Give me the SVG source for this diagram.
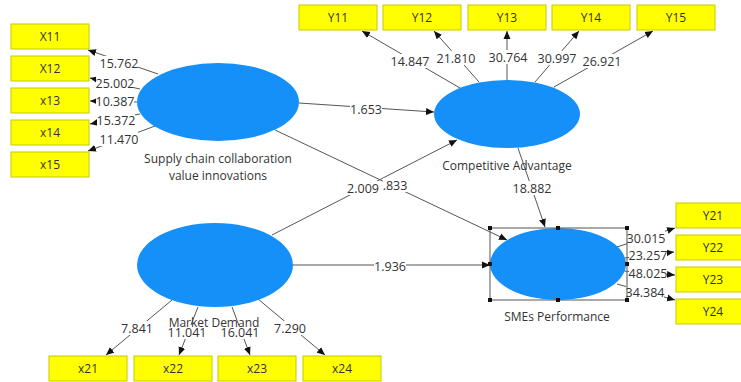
<svg xmlns="http://www.w3.org/2000/svg" width="741" height="382" viewBox="0 0 741 382">
<style>
.bg{fill:#fff}
.box{fill:#ffff00;stroke:#c8c800;stroke-width:1}
.bt{font-family:"Open Sans","Noto Sans",sans-serif;font-size:12px;fill:#333;text-anchor:middle;dominant-baseline:central}
.lv{fill:#1490f8}
.lt{font-family:"Open Sans","Noto Sans",sans-serif;font-size:12px;fill:#333;text-anchor:middle}
.ln{stroke:#555;stroke-width:1;fill:none;marker-end:url(#ah)}
.num{font-family:"Open Sans","Noto Sans",sans-serif;font-size:12.5px;fill:#333;text-anchor:middle;dominant-baseline:central}
.nb{fill:#fff}
.sel{fill:none;stroke:#555;stroke-width:1}
.h{fill:#111}
</style>
<defs>
<marker id="ah" markerUnits="userSpaceOnUse" markerWidth="9" markerHeight="8" refX="8" refY="4" orient="auto">
<path d="M0,0.5 L8,4 L0,7.5 z" fill="#111"/>
</marker>
</defs>
<rect class="bg" x="0" y="0" width="741" height="382"/>

<g id="connectors">
<line class="ln" x1="158" y1="74" x2="88" y2="50"/>
<line class="ln" x1="140" y1="89" x2="90" y2="78"/>
<line class="ln" x1="137" y1="102" x2="90" y2="101"/>
<line class="ln" x1="140" y1="114" x2="90" y2="124"/>
<line class="ln" x1="155" y1="126" x2="88" y2="151"/>

<line class="ln" x1="460" y1="88" x2="362" y2="31"/>
<line class="ln" x1="479" y1="82" x2="434" y2="31"/>
<line class="ln" x1="507" y1="80" x2="507" y2="31"/>
<line class="ln" x1="535" y1="82" x2="579" y2="31"/>
<line class="ln" x1="554" y1="87" x2="653" y2="31"/>

<line class="ln" x1="299" y1="103" x2="434" y2="112"/>
<line class="ln" x1="275" y1="130" x2="507" y2="240"/>
<line class="ln" x1="272" y1="235" x2="457" y2="140"/>
<line class="ln" x1="293" y1="265" x2="490" y2="265"/>
<line class="ln" x1="518" y1="148" x2="545" y2="227"/>

<line class="ln" x1="617" y1="247" x2="675" y2="228"/>
<line class="ln" x1="625" y1="258" x2="674" y2="252"/>
<line class="ln" x1="624" y1="271" x2="675" y2="275"/>
<line class="ln" x1="617" y1="284" x2="675" y2="300"/>

<line class="ln" x1="172" y1="300" x2="106" y2="355"/>
<line class="ln" x1="198" y1="307" x2="179" y2="355"/>
<line class="ln" x1="232" y1="307" x2="250" y2="355"/>
<line class="ln" x1="258" y1="299" x2="325" y2="355"/>

<rect class="nb" x="100" y="56" width="38" height="14"/><text class="num" x="119" y="63">15.762</text>
<rect class="nb" x="96" y="76" width="38" height="14"/><text class="num" x="115" y="83">25.002</text>
<rect class="nb" x="96" y="94" width="38" height="14"/><text class="num" x="115" y="101">10.387</text>
<rect class="nb" x="97" y="113" width="38" height="14"/><text class="num" x="116" y="120">15.372</text>
<rect class="nb" x="100" y="132" width="38" height="14"/><text class="num" x="119" y="139">11.470</text>

<rect class="nb" x="391" y="54" width="38" height="14"/><text class="num" x="410" y="61">14.847</text>
<rect class="nb" x="437" y="51" width="38" height="14"/><text class="num" x="456" y="58">21.810</text>
<rect class="nb" x="489" y="50" width="38" height="14"/><text class="num" x="508" y="57">30.764</text>
<rect class="nb" x="538" y="51" width="38" height="14"/><text class="num" x="557" y="58">30.997</text>
<rect class="nb" x="583" y="54" width="38" height="14"/><text class="num" x="602" y="61">26.921</text>

<rect class="nb" x="350" y="102" width="32" height="14"/><text class="num" x="366" y="109">1.653</text>
<rect class="nb" x="383" y="178" width="24" height="14"/><text class="num" x="395" y="185">.833</text>
<rect class="nb" x="347" y="181" width="32" height="14"/><text class="num" x="363" y="188">2.009</text>
<rect class="nb" x="374" y="259" width="32" height="14"/><text class="num" x="390" y="266">1.936</text>
<rect class="nb" x="513" y="181" width="38" height="14"/><text class="num" x="532" y="188">18.882</text>

<rect class="nb" x="627" y="231" width="38" height="14"/><text class="num" x="646" y="238">30.015</text>
<rect class="nb" x="629" y="248" width="38" height="14"/><text class="num" x="648" y="255">23.257</text>
<rect class="nb" x="629" y="266" width="38" height="14"/><text class="num" x="648" y="273">48.025</text>
<rect class="nb" x="626" y="285" width="38" height="14"/><text class="num" x="645" y="292">34.384</text>

<rect class="nb" x="121" y="321" width="32" height="14"/><text class="num" x="137" y="328">7.841</text>
<rect class="nb" x="168" y="325" width="38" height="14"/><text class="num" x="187" y="332">11.041</text>
<rect class="nb" x="221" y="325" width="38" height="14"/><text class="num" x="240" y="332">16.041</text>
<rect class="nb" x="274" y="321" width="32" height="14"/><text class="num" x="290" y="328">7.290</text>
</g>

<g id="X11"><rect class="box" x="11" y="24" width="78" height="25"/><text class="bt" x="50" y="36.5">X11</text></g>
<g id="X12"><rect class="box" x="11" y="56" width="78" height="25"/><text class="bt" x="50" y="68.5">X12</text></g>
<g id="x13"><rect class="box" x="11" y="88" width="78" height="25"/><text class="bt" x="50" y="100.5">x13</text></g>
<g id="x14"><rect class="box" x="11" y="120" width="78" height="25"/><text class="bt" x="50" y="132.5">x14</text></g>
<g id="x15"><rect class="box" x="11" y="152" width="78" height="25"/><text class="bt" x="50" y="164.5">x15</text></g>

<g id="Y11"><rect class="box" x="299" y="5" width="78" height="25"/><text class="bt" x="338" y="17.5">Y11</text></g>
<g id="Y12"><rect class="box" x="383" y="5" width="78" height="25"/><text class="bt" x="422" y="17.5">Y12</text></g>
<g id="Y13"><rect class="box" x="468" y="5" width="78" height="25"/><text class="bt" x="507" y="17.5">Y13</text></g>
<g id="Y14"><rect class="box" x="552" y="5" width="78" height="25"/><text class="bt" x="591" y="17.5">Y14</text></g>
<g id="Y15"><rect class="box" x="637" y="5" width="78" height="25"/><text class="bt" x="676" y="17.5">Y15</text></g>

<g id="Y21"><rect class="box" x="676" y="203" width="78" height="25"/><text class="bt" x="713" y="215.5">Y21</text></g>
<g id="Y22"><rect class="box" x="676" y="235" width="78" height="25"/><text class="bt" x="713" y="247.5">Y22</text></g>
<g id="Y23"><rect class="box" x="676" y="267" width="78" height="25"/><text class="bt" x="713" y="279.5">Y23</text></g>
<g id="Y24"><rect class="box" x="676" y="299" width="78" height="25"/><text class="bt" x="713" y="311.5">Y24</text></g>

<g id="x21"><rect class="box" x="49" y="356" width="78" height="25"/><text class="bt" x="88" y="368.5">x21</text></g>
<g id="x22"><rect class="box" x="134" y="356" width="78" height="25"/><text class="bt" x="173" y="368.5">x22</text></g>
<g id="x23"><rect class="box" x="218" y="356" width="78" height="25"/><text class="bt" x="257" y="368.5">x23</text></g>
<g id="x24"><rect class="box" x="303" y="356" width="78" height="25"/><text class="bt" x="342" y="368.5">x24</text></g>

<g id="SupplyChain">
<ellipse class="lv" cx="218" cy="102" rx="81" ry="39"/>
<text class="lt" x="218" y="163">Supply chain collaboration</text>
<text class="lt" x="218" y="180">value innovations</text>
</g>
<g id="CompetitiveAdvantage">
<ellipse class="lv" cx="507" cy="114" rx="73" ry="34"/>
<text class="lt" x="507" y="170">Competitive Advantage</text>
</g>
<g id="MarketDemand">
<ellipse class="lv" cx="215" cy="265" rx="78" ry="42"/>
<text class="lt" x="214" y="327">Market Demand</text>
</g>
<g id="SMEsPerformance">
<ellipse class="lv" cx="558" cy="264" rx="68" ry="36"/>
<rect class="sel" x="490" y="228" width="137" height="72"/>
<rect class="h" x="488" y="226" width="4" height="4"/>
<rect class="h" x="556" y="226" width="4" height="4"/>
<rect class="h" x="625" y="226" width="4" height="4"/>
<rect class="h" x="488" y="262" width="4" height="4"/>
<rect class="h" x="625" y="262" width="4" height="4"/>
<rect class="h" x="488" y="298" width="4" height="4"/>
<rect class="h" x="556" y="298" width="4" height="4"/>
<rect class="h" x="625" y="298" width="4" height="4"/>
<text class="lt" x="557" y="321">SMEs Performance</text>
</g>
</svg>
